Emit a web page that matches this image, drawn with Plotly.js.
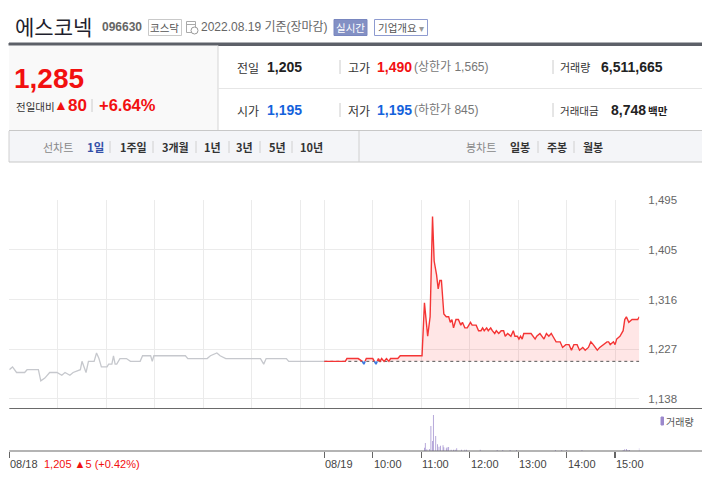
<!DOCTYPE html>
<html><head><meta charset="utf-8">
<script src="https://cdn.plot.ly/plotly-3.0.1.min.js"></script>
<style>html,body{margin:0;padding:0;background:#fff;}#chart{width:702px;height:484px;}</style>
</head><body><div id="chart"></div>
<script>
// ---- data (minutes since 08/18 09:00; 390 = 08/19 09:00) ----
const prevMinutes = [0,4,9,19,22,36,39,44,50,54,59,65,69,75,79,88,90,95,98,105,108,111,114,121,123,127,129,131,133,137,145,150,162,165,175,177,179,218,221,245,249,257,261,268,311,315,318,343,346,390];
const prevPrices  = [1190,1195,1185,1185,1190,1190,1170,1175,1185,1185,1185,1180,1185,1180,1185,1190,1205,1185,1205,1205,1220,1210,1195,1195,1200,1200,1215,1200,1200,1210,1210,1205,1205,1215,1215,1205,1215,1215,1210,1210,1215,1220,1215,1210,1210,1200,1210,1210,1205,1205];
const todayMinutes = [390,416,418,432,437,439,442,450,454,457,459,461,464,467,470,472,481,484,511,514,518,521,524,526,529,531,533,535,538,541,544,546,548,550,553,556,559,561,564,567,571,573,578,581,584,586,588,591,593,596,598,601,603,606,609,612,614,617,621,624,626,629,631,633,635,637,646,651,653,657,662,665,668,671,673,677,682,685,689,693,696,699,703,706,710,713,717,720,723,728,731,735,740,742,744,748,750,752,756,760,762,764,767,771,778,780];
const todayPrices  = [1205,1205,1210,1210,1205,1200,1210,1210,1200,1210,1205,1210,1205,1210,1205,1210,1210,1215,1215,1310,1250,1285,1465,1385,1360,1335,1350,1350,1290,1285,1285,1275,1280,1265,1280,1280,1270,1275,1265,1265,1275,1270,1270,1260,1260,1265,1260,1265,1260,1265,1260,1255,1260,1255,1260,1260,1250,1255,1250,1260,1250,1250,1245,1250,1245,1255,1255,1245,1250,1255,1245,1255,1250,1255,1250,1240,1240,1230,1235,1235,1225,1235,1235,1225,1230,1225,1230,1240,1235,1225,1230,1235,1240,1240,1235,1240,1235,1245,1250,1260,1280,1285,1275,1280,1280,1285];
const volumeMinutes = [514,515,517,520,522,524,525,528,530,532,534,537,538,541,542,544,547,550,552,554,560,564,566,583,604,611,620,628,676,684,690,709,760,762,764,766,768,780];
const volumes = [140000,345000,72000,86000,1075000,430000,1550000,645000,288000,185000,228000,245000,159000,116000,159000,172000,56000,56000,56000,116000,56000,56000,56000,56000,43000,43000,43000,43000,43000,43000,43000,43000,43000,72000,86000,43000,43000,116000];
const prevClose = 1205;
const priceTicks = [1138,1227,1316,1405,1495];
const gridMinutes = [0,60,120,180,240,300,360,390,450,510,570,630,690,750];
const axisTickMinutes = [0,390,450,510,570,630,690,750];
const axisTickLabels = ["08/18","08/19","10:00","11:00","12:00","13:00","14:00","15:00"];

// ---- helpers ----
const W=702,H=484;
const px=x=>x/W, py=y=>1-y/H;
const KR='"Noto Sans CJK KR", sans-serif';
const NUM='"Liberation Sans", "Noto Sans CJK KR", sans-serif';
const ann=[];
function T(text,x,y,size,color,family,extra){ann.push(Object.assign({text:text,x:px(x),y:py(y),xref:'paper',yref:'paper',xanchor:'left',yanchor:'middle',showarrow:false,borderpad:0,font:{size:size,color:color,family:family||NUM}},extra||{}));}
const shapes=[];
function R(x0,y0,x1,y1,fill,line){shapes.push({type:'rect',xref:'paper',yref:'paper',x0:px(x0),x1:px(x1),y0:py(y0),y1:py(y1),fillcolor:fill||'rgba(0,0,0,0)',line:{color:line||'rgba(0,0,0,0)',width:line?1:0},layer:'below'});}
function L(x0,y0,x1,y1,color,w){shapes.push({type:'line',xref:'paper',yref:'paper',x0:px(x0),x1:px(x1),y0:py(y0),y1:py(y1),line:{color:color,width:w||1}});}

// ---- header ----
T('에스코넥',14,26,21,'#1f1f2e',KR);
T('<b>096630</b>',101,27,12,'#666');
R(148.5,19.5,181.5,35.5,'#fff','#c9c9c9');
T('코스닥',164.5,27.5,10.5,'#555',KR,{xanchor:'center'});
R(186.5,21.5,195.5,32.5,'#fff','#aaa'); L(186.5,24.5,195.5,24.5,'#aaa',1);
shapes.push({type:'circle',xref:'paper',yref:'paper',x0:px(191),x1:px(198),y0:py(27),y1:py(34),fillcolor:'#fff',line:{color:'#999',width:1}});
T('2022.08.19 기준(장마감)',200,27,12,'#666',NUM);
R(334,19.5,367,35.5,'#8390c4','#7886bf');
T('실시간',350.5,27.5,10.5,'#fff',KR,{xanchor:'center'});
R(374.5,19.5,427.5,35.5,'#fff','#8e9bd0');
T('기업개요',377,27.5,10.5,'#555',KR);
T('▾',418,28,10,'#999',NUM);
R(9,43,702,45.5,'#5d6068','#5d6068');
R(9,45.5,218,130,'#f9f9f9');
L(218,45.5,218,130,'#d5d5d5',1);
L(218,88.5,702,88.5,'#e6e6e6',1);
L(9,130.5,702,130.5,'#c8c8c8',1);
T('<b>1,285</b>',13,78,28,'#f21010');
T('전일대비',15,106,10.5,'#333',KR);
T('▲',53,105.5,14,'#f21010');
T('<b>80</b>',67,105.5,17,'#f21010');
L(92,99,92,112,'#ccc',1);
T('<b>+6.64%</b>',98,105.5,16.5,'#f21010');
// row 1
T('전일',236,67,12,'#333',KR); T('<b>1,205</b>',266,67,14,'#222');
L(340,60,340,74,'#ccc',1);
T('고가',347,67,12,'#333',KR); T('<b>1,490</b>',376,67,14,'#f21010');
T('(상한가 1,565)',413,67,12,'#777',NUM);
L(553,60,553,74,'#ccc',1);
T('거래량',559,67,11,'#333',KR); T('<b>6,511,665</b>',600,67,14,'#222');
// row 2
T('시가',236,110,12,'#333',KR); T('<b>1,195</b>',266,110,14,'#1462dc');
L(340,103,340,117,'#ccc',1);
T('저가',347,110,12,'#333',KR); T('<b>1,195</b>',376,110,14,'#1462dc');
T('(하한가 845)',413,110,12,'#777',NUM);
L(553,103,553,117,'#ccc',1);
T('거래대금',559,110,10.5,'#333',KR); T('<b>8,748</b>',610,110,14,'#222'); T('<b>백만</b>',647,110,10.5,'#222',KR);
// toolbar
R(9,131,702,162,'#f4f5f8');
L(9,131,9,162,'#d0d0d0',1);
L(9,162,702,162,'#c8c8c8',1);
L(359,131,359,162,'#d0d0d0',1);
T('선차트',42,147,11,'#888',KR);
T('<b>1일</b>',86,147,11.5,'#3350a8',KR);
const tb=[['1주일',119],['3개월',161],['1년',203],['3년',235],['5년',268],['10년',299]];
tb.forEach(a=>T('<b>'+a[0]+'</b>',a[1],147,11,'#333',KR));
[110,153,196,229,260,292].forEach(x=>L(x,141,x,153,'#d0d0d0',1));
T('봉차트',465,147,11,'#888',KR);
T('<b>일봉</b>',509,147,11,'#333',KR);
T('<b>주봉</b>',546,147,11,'#333',KR);
T('<b>월봉</b>',582,147,11,'#333',KR);
[538,574].forEach(x=>L(x,141,x,153,'#d0d0d0',1));

// ---- chart panel lines ----
const xd=[9.3/W,639.3/W];
shapes.push({type:'line',xref:'paper',yref:'y domain',x0:xd[0],x1:1,y0:0,y1:0,line:{color:'#6a6a6a',width:1.2}});
shapes.push({type:'line',xref:'paper',yref:'y2 domain',x0:xd[0],x1:1,y0:0,y1:0,line:{color:'#6a6a6a',width:1.2}});
// volume legend
R(661,417,663.5,425,'#9b88cc','#9b88cc');
T('거래량',665,421,10,'#555',KR);
// bottom labels
axisTickMinutes.forEach((m,i)=>ann.push({text:axisTickLabels[i],x:m,xref:'x2',y:py(464),yref:'paper',xanchor:'left',yanchor:'middle',showarrow:false,borderpad:0,font:{size:11,color:'#444',family:NUM}}));
T('1,205 ▲5 (+0.42%)',43,464,11,'#f21010');

// ---- split today series at prevClose into red (>=) and blue (<) ----
const ax=[],ay=[];
for(let i=0;i<todayMinutes.length;i++){
  ax.push(todayMinutes[i]); ay.push(todayPrices[i]);
  if(i<todayMinutes.length-1){
    const a=todayPrices[i]-prevClose,b=todayPrices[i+1]-prevClose;
    if(a*b<0){const f=a/(a-b);ax.push(todayMinutes[i]+f*(todayMinutes[i+1]-todayMinutes[i]));ay.push(prevClose);}
  }
}
const redY=[],blueY=[];
for(let i=0;i<ay.length;i++){
  const p=i>0?ay[i-1]:ay[i], n=i<ay.length-1?ay[i+1]:ay[i], y=ay[i];
  if(y>prevClose) {redY.push(y);blueY.push(null);}
  else if(y<prevClose){redY.push(null);blueY.push(y);}
  else{
    redY.push((p<prevClose&&n<prevClose)?null:y);
    blueY.push((p<prevClose||n<prevClose)?y:null);
  }
}
const fillY=ay.map(v=>Math.max(v,prevClose));

const traces=[
  {x:ax,y:ax.map(()=>prevClose),mode:'lines',line:{width:0,color:'rgba(0,0,0,0)'},hoverinfo:'skip'},
  {x:ax,y:fillY,mode:'lines',line:{width:0,color:'rgba(0,0,0,0)'},fill:'tonexty',fillcolor:'rgba(255,60,60,0.13)',hoverinfo:'skip'},
  {x:[todayMinutes[0],todayMinutes[todayMinutes.length-1]],y:[prevClose,prevClose],mode:'lines',line:{color:'#555',width:1,dash:'dot'}},
  {x:prevMinutes,y:prevPrices,mode:'lines',line:{color:'#c6c8cd',width:1.3}},
  {x:ax,y:redY,mode:'lines',line:{color:'#f43535',width:1.4},connectgaps:false},
  {x:ax,y:blueY,mode:'lines',line:{color:'#3a78e0',width:1.6},connectgaps:false},
  {x:volumeMinutes,y:volumes,type:'bar',xaxis:'x2',yaxis:'y2',width:0.9,marker:{color:'#9b88cc',line:{width:0}}}
];

const layout={
  width:W,height:H,margin:{l:0,r:0,t:0,b:0},paper_bgcolor:'#fff',plot_bgcolor:'rgba(0,0,0,0)',
  showlegend:false,
  xaxis:{domain:xd,range:[0,780],tickvals:gridMinutes,showticklabels:false,ticks:'',showgrid:true,gridcolor:'#ebebeb',gridwidth:1,zeroline:false,showline:false,anchor:'y'},
  yaxis:{domain:[py(408.5),py(199.7)],range:[1120.4,1495],tickvals:priceTicks,ticktext:priceTicks.map(v=>v.toLocaleString('en-US')),side:'right',ticks:'',ticklabelstandoff:8,tickfont:{size:11.5,color:'#666',family:NUM},showgrid:true,gridcolor:'#ebebeb',gridwidth:1,zeroline:false,showline:false,anchor:'x'},
  xaxis2:{domain:xd,range:[0,780],tickvals:axisTickMinutes,showticklabels:false,ticks:'outside',ticklen:6,tickcolor:'#666',tickwidth:1.2,showgrid:false,zeroline:false,showline:false,anchor:'y2'},
  yaxis2:{domain:[py(451),py(410)],range:[0,1765000],visible:false,showgrid:false,zeroline:false,anchor:'x2'},
  annotations:ann,shapes:shapes
};
Plotly.newPlot('chart',traces,layout,{staticPlot:true,displayModeBar:false});
</script></body></html>
